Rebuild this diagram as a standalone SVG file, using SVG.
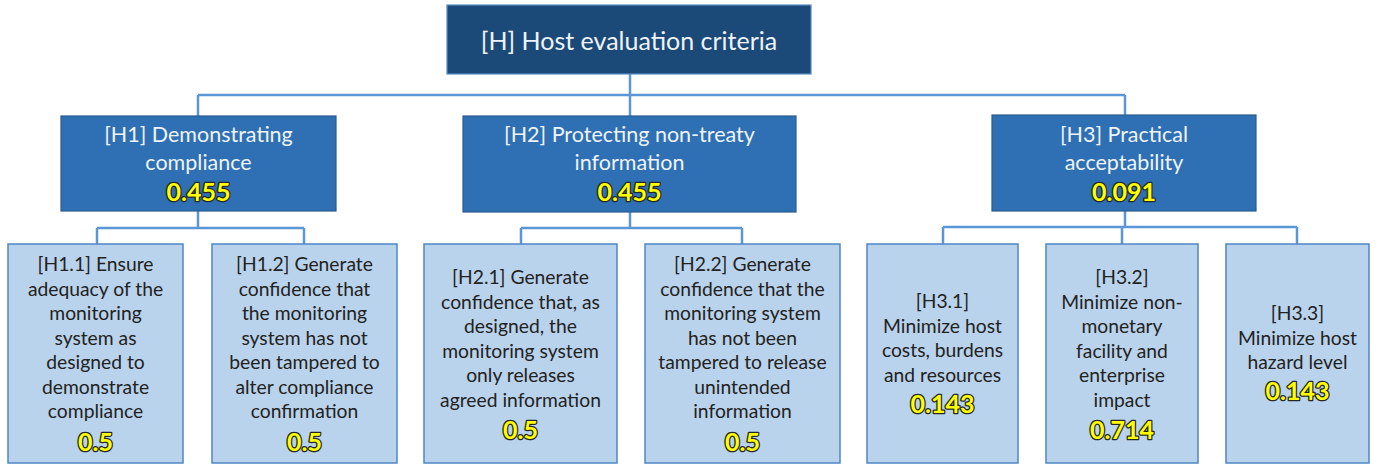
<svg xmlns="http://www.w3.org/2000/svg" width="1377" height="466" viewBox="0 0 1377 466">
  <style>
    .root { fill: #1c4a78; stroke: #5a8ec4; stroke-width: 1.2; }
    .mid { fill: #2e70b3; stroke: #2a5a8c; stroke-width: 1.2; }
    .leaf { fill: #bad3ec; stroke: #4f86c4; stroke-width: 1.5; }
    .wire { fill: none; stroke: #5b96d6; stroke-width: 2.5; }
    text { font-family: Lato, "Open Sans", "Liberation Sans", sans-serif; text-anchor: middle; }
    .t-root { fill: #eef3f9; font-size: 25px; }
    .t-mid { fill: #eef3f9; font-size: 21.5px; }
    .t-leaf { fill: #222; font-size: 19.3px; }
    .w { font-weight: bold; fill: #ffff00; stroke: #262626; stroke-width: 2.6; paint-order: stroke; stroke-linejoin: round; font-size: 25px; }
  </style>

  <!-- connectors -->
  <g id="connectors">
    <path class="wire" d="M630 74 V95 M198 95 H1125 M198 95 V116 M630 95 V116 M1125 95 V115"/>
    <path class="wire" d="M198 211 V228 M97 228 H304 M97 228 V244 M304 228 V244"/>
    <path class="wire" d="M630 212 V228 M521 228 H742 M521 228 V244 M742 228 V244"/>
    <path class="wire" d="M1125 211 V227 M943 227 H1297 M943 227 V244 M1122 227 V244 M1297 227 V244"/>
  </g>

  <!-- top node -->
  <g id="H">
    <rect class="root" x="447" y="5" width="364" height="69"/>
    <text class="t-root" x="629" y="50">[H] Host evaluation criteria</text>
  </g>

  <!-- second level -->
  <g id="H1">
    <rect class="mid" x="61" y="116" width="275" height="95"/>
    <text class="t-mid" x="198.5" y="142">[H1] Demonstrating</text>
    <text class="t-mid" x="198.5" y="170">compliance</text>
    <text class="w" x="198.5" y="201">0.455</text>
  </g>
  <g id="H2">
    <rect class="mid" x="463" y="116" width="333" height="96"/>
    <text class="t-mid" x="629.5" y="142">[H2] Protecting non-treaty</text>
    <text class="t-mid" x="629.5" y="170">information</text>
    <text class="w" x="629.5" y="201">0.455</text>
  </g>
  <g id="H3">
    <rect class="mid" x="992" y="115" width="264" height="96"/>
    <text class="t-mid" x="1124" y="142">[H3] Practical</text>
    <text class="t-mid" x="1124" y="170">acceptability</text>
    <text class="w" x="1124" y="201">0.091</text>
  </g>

  <!-- leaves -->
  <g id="H1.1">
    <rect class="leaf" x="8" y="244" width="175" height="219"/>
    <text class="t-leaf" x="95.5" y="271">[H1.1] Ensure</text>
    <text class="t-leaf" x="95.5" y="295.5">adequacy of the</text>
    <text class="t-leaf" x="95.5" y="320">monitoring</text>
    <text class="t-leaf" x="95.5" y="344.5">system as</text>
    <text class="t-leaf" x="95.5" y="369">designed to</text>
    <text class="t-leaf" x="95.5" y="393.5">demonstrate</text>
    <text class="t-leaf" x="95.5" y="418">compliance</text>
    <text class="w" x="95.5" y="451">0.5</text>
  </g>
  <g id="H1.2">
    <rect class="leaf" x="212" y="244" width="185" height="219"/>
    <text class="t-leaf" x="304.5" y="271">[H1.2] Generate</text>
    <text class="t-leaf" x="304.5" y="295.5">confidence that</text>
    <text class="t-leaf" x="304.5" y="320">the monitoring</text>
    <text class="t-leaf" x="304.5" y="344.5">system has not</text>
    <text class="t-leaf" x="304.5" y="369">been tampered to</text>
    <text class="t-leaf" x="304.5" y="393.5">alter compliance</text>
    <text class="t-leaf" x="304.5" y="418">confirmation</text>
    <text class="w" x="304.5" y="451">0.5</text>
  </g>
  <g id="H2.1">
    <rect class="leaf" x="424" y="244" width="193" height="219"/>
    <text class="t-leaf" x="520.5" y="284">[H2.1] Generate</text>
    <text class="t-leaf" x="520.5" y="308.5">confidence that, as</text>
    <text class="t-leaf" x="520.5" y="333">designed, the</text>
    <text class="t-leaf" x="520.5" y="357.5">monitoring system</text>
    <text class="t-leaf" x="520.5" y="382">only releases</text>
    <text class="t-leaf" x="520.5" y="406.5">agreed information</text>
    <text class="w" x="520.5" y="439">0.5</text>
  </g>
  <g id="H2.2">
    <rect class="leaf" x="645" y="244" width="195" height="219"/>
    <text class="t-leaf" x="742.5" y="271">[H2.2] Generate</text>
    <text class="t-leaf" x="742.5" y="295.5">confidence that the</text>
    <text class="t-leaf" x="742.5" y="320">monitoring system</text>
    <text class="t-leaf" x="742.5" y="344.5">has not been</text>
    <text class="t-leaf" x="742.5" y="369">tampered to release</text>
    <text class="t-leaf" x="742.5" y="393.5">unintended</text>
    <text class="t-leaf" x="742.5" y="418">information</text>
    <text class="w" x="742.5" y="451">0.5</text>
  </g>
  <g id="H3.1">
    <rect class="leaf" x="867" y="244" width="151" height="219"/>
    <text class="t-leaf" x="942.5" y="308">[H3.1]</text>
    <text class="t-leaf" x="942.5" y="332.5">Minimize host</text>
    <text class="t-leaf" x="942.5" y="357">costs, burdens</text>
    <text class="t-leaf" x="942.5" y="381.5">and resources</text>
    <text class="w" x="942.5" y="413">0.143</text>
  </g>
  <g id="H3.2">
    <rect class="leaf" x="1046" y="244" width="152" height="219"/>
    <text class="t-leaf" x="1122" y="284">[H3.2]</text>
    <text class="t-leaf" x="1122" y="308.5">Minimize non-</text>
    <text class="t-leaf" x="1122" y="333">monetary</text>
    <text class="t-leaf" x="1122" y="357.5">facility and</text>
    <text class="t-leaf" x="1122" y="382">enterprise</text>
    <text class="t-leaf" x="1122" y="406.5">impact</text>
    <text class="w" x="1122" y="439">0.714</text>
  </g>
  <g id="H3.3">
    <rect class="leaf" x="1226" y="244" width="143" height="219"/>
    <text class="t-leaf" x="1297.5" y="320">[H3.3]</text>
    <text class="t-leaf" x="1297.5" y="344.5">Minimize host</text>
    <text class="t-leaf" x="1297.5" y="369">hazard level</text>
    <text class="w" x="1297.5" y="400">0.143</text>
  </g>
</svg>
